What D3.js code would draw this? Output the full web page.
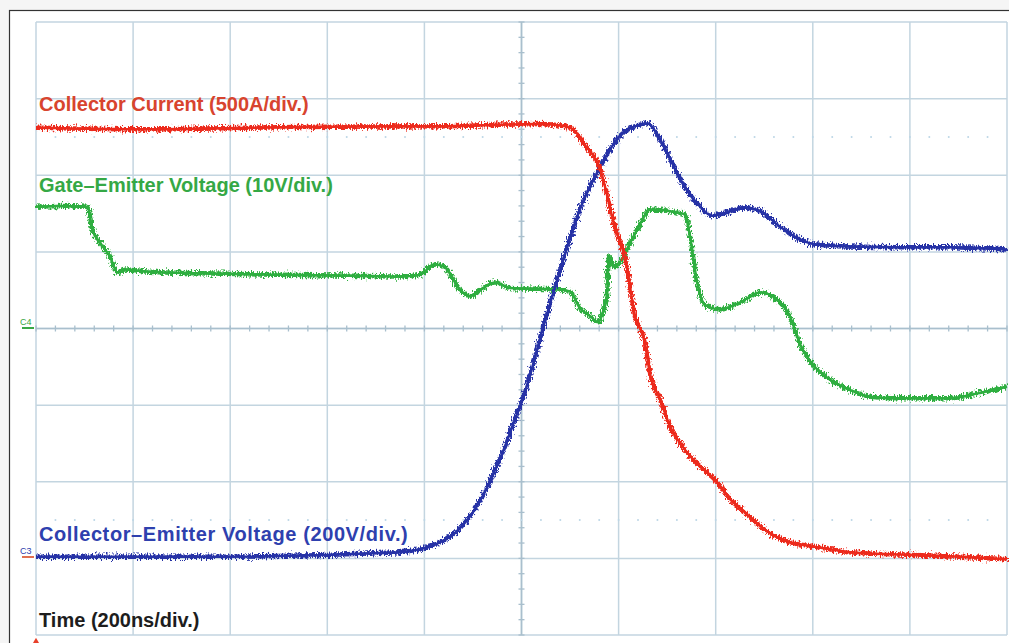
<!DOCTYPE html>
<html>
<head>
	<script src="https://d3js.org/d3.v7.min.js"></script>
	<style>
		body { margin: 0; background: #f5f5f5; }
		svg { display: block; }
		.label { font-family: "Liberation Sans", Arial, sans-serif; font-weight: bold; font-size: 20px; }
	</style>
</head>
<body>
	<div class="scope"></div>
	<script>
		// screen size, in pixels
		var w = 1009, h = 643;

		// traces: t in divisions (200ns/div), v in divisions from centre
		var currentT = [0, 1.17, 2.72, 4.26, 5.19, 5.45, 5.55, 5.63, 5.81, 5.96, 6.07, 6.17, 6.27, 6.32, 6.43, 6.53, 6.63, 6.74, 6.84, 6.99, 7.15, 7.30, 7.46, 7.61, 7.77, 7.97, 8.18, 8.38, 8.90, 9.52, 10];
		var currentV = [2.62, 2.60, 2.63, 2.64, 2.67, 2.64, 2.58, 2.43, 2.08, 1.33, 0.90, 0.16, -0.18, -0.57, -0.93, -1.28, -1.49, -1.67, -1.80, -1.97, -2.23, -2.40, -2.58, -2.71, -2.79, -2.84, -2.88, -2.92, -2.95, -2.98, -3.01];

		var vceT = [0, 1.69, 3.75, 3.95, 4.16, 4.32, 4.42, 4.52, 4.62, 4.73, 4.83, 4.93, 5.01, 5.09, 5.22, 5.40, 5.60, 5.81, 6.01, 6.22, 6.30, 6.38, 6.53, 6.68, 6.84, 6.96, 7.10, 7.30, 7.46, 7.66, 7.87, 8.02, 8.38, 8.90, 9.41, 10];
		var vceV = [-2.98, -2.98, -2.92, -2.88, -2.79, -2.66, -2.53, -2.36, -2.14, -1.84, -1.54, -1.19, -0.93, -0.60, 0, 0.77, 1.55, 2.11, 2.51, 2.66, 2.68, 2.57, 2.21, 1.85, 1.59, 1.47, 1.51, 1.58, 1.53, 1.33, 1.16, 1.10, 1.07, 1.06, 1.06, 1.03];

		var vgeT = [0, 0.25, 0.53, 0.58, 0.66, 0.76, 0.84, 0.92, 1.17, 1.69, 2.51, 3.23, 3.75, 3.95, 4.11, 4.21, 4.37, 4.47, 4.57, 4.73, 4.88, 5.40, 5.50, 5.60, 5.71, 5.79, 5.84, 5.88, 5.90, 5.96, 6.01, 6.12, 6.22, 6.32, 6.43, 6.53, 6.68, 6.74, 6.81, 6.89, 7.04, 7.25, 7.46, 7.61, 7.77, 7.87, 8.02, 8.18, 8.38, 8.59, 8.90, 9.41, 9.72, 10];
		var vgeV = [1.59, 1.60, 1.59, 1.29, 1.12, 0.94, 0.73, 0.77, 0.74, 0.72, 0.70, 0.69, 0.68, 0.70, 0.84, 0.80, 0.50, 0.42, 0.50, 0.60, 0.53, 0.51, 0.48, 0.27, 0.16, 0.08, 0.22, 0.42, 0.94, 0.80, 0.86, 1.12, 1.36, 1.55, 1.55, 1.53, 1.49, 1.17, 0.59, 0.31, 0.25, 0.34, 0.47, 0.40, 0.14, -0.21, -0.50, -0.67, -0.80, -0.89, -0.91, -0.91, -0.84, -0.76];

		var labels = ["Collector Current (500A/div.)", "Gate\u2013Emitter Voltage (10V/div.)", "Collector\u2013Emitter Voltage (200V/div.)", "Time (200ns/div.)"];

		var svg = d3.select(".scope")
			.append("svg")
			.attr("width", w)
			.attr("height", h);

		var x = d3.scaleLinear().domain([0, 10]).range([36, 1007]);
		var y = d3.scaleLinear().domain([-4, 4]).range([635, 22]);

		// noisy look of the scope traces
		var filter = svg.append("defs").append("filter")
			.attr("id", "jitter")
			.attr("filterUnits", "userSpaceOnUse")
			.attr("x", 0).attr("y", 0).attr("width", w).attr("height", h);
		filter.append("feTurbulence")
			.attr("type", "fractalNoise")
			.attr("baseFrequency", "0.8 0.35")
			.attr("numOctaves", 2)
			.attr("seed", 4)
			.attr("result", "n");
		filter.append("feDisplacementMap")
			.attr("in", "SourceGraphic")
			.attr("in2", "n")
			.attr("scale", 9)
			.attr("xChannelSelector", "R")
			.attr("yChannelSelector", "G");

		// frame
		svg.append("rect")
			.attr("x", 9.5).attr("y", 10.5)
			.attr("width", w).attr("height", h)
			.attr("fill", "#fff")
			.attr("stroke", "#333")
			.attr("stroke-width", 1.2);

		// grid
		var grid = svg.append("g");
		grid.selectAll(".vline")
			.data(d3.range(0, 11))
			.enter()
			.append("line")
			.attr("x1", function(d) { return x(d); })
			.attr("x2", function(d) { return x(d); })
			.attr("y1", y(4)).attr("y2", y(-4))
			.attr("stroke", "#c3d5e0")
			.attr("stroke-width", 1.5);
		grid.selectAll(".hline")
			.data(d3.range(-4, 5))
			.enter()
			.append("line")
			.attr("y1", function(d) { return y(d); })
			.attr("y2", function(d) { return y(d); })
			.attr("x1", x(0)).attr("x2", x(10))
			.attr("stroke", "#c3d5e0")
			.attr("stroke-width", 1.5);

		// minor ticks on the centre axes
		grid.selectAll(".htick")
			.data(d3.range(0, 10.01, 0.2))
			.enter()
			.append("line")
			.attr("x1", function(d) { return x(d); })
			.attr("x2", function(d) { return x(d); })
			.attr("y1", y(0) - 3).attr("y2", y(0) + 3)
			.attr("stroke", "#a9bfcd")
			.attr("stroke-width", 1.3);
		grid.selectAll(".vtick")
			.data(d3.range(-4, 4.01, 0.2))
			.enter()
			.append("line")
			.attr("y1", function(d) { return y(d); })
			.attr("y2", function(d) { return y(d); })
			.attr("x1", x(5) - 3).attr("x2", x(5) + 3)
			.attr("stroke", "#a9bfcd")
			.attr("stroke-width", 1.3);
		grid.append("line")
			.attr("x1", x(0)).attr("x2", x(10))
			.attr("y1", y(0)).attr("y2", y(0))
			.attr("stroke", "#a9bfcd")
			.attr("stroke-width", 1.6);
		grid.append("line")
			.attr("x1", x(5)).attr("x2", x(5))
			.attr("y1", y(4)).attr("y2", y(-4))
			.attr("stroke", "#a9bfcd")
			.attr("stroke-width", 1.6);

		// faint dotted lines at +/- 2.5 div
		[2.5, -2.5].forEach(function(v) {
			grid.selectAll(".dot" + (v > 0 ? "a" : "b"))
				.data(d3.range(0.2, 10, 0.2))
				.enter()
				.append("circle")
				.attr("cx", function(d) { return x(d); })
				.attr("cy", y(v))
				.attr("r", 1)
				.attr("fill", "#bcd6e6");
		});

		// traces
		var line = d3.line()
			.x(function(d) { return x(d[0]); })
			.y(function(d) { return y(d[1]); })
			.curve(d3.curveMonotoneX);

		var traces = [
			{t: vgeT, v: vgeV, color: "#2fae3f"},
			{t: vceT, v: vceV, color: "#2632a6"},
			{t: currentT, v: currentV, color: "#ec2a1d"}
		];
		traces.forEach(function(tr) {
			var pts = d3.zip(tr.t, tr.v);
			// solid core, then the jittered band over it
			svg.append("path")
				.datum(pts)
				.attr("d", line)
				.attr("fill", "none")
				.attr("stroke", tr.color)
				.attr("stroke-width", 2.5)
				.attr("stroke-linejoin", "round");
			svg.append("path")
				.datum(pts)
				.attr("d", line)
				.attr("fill", "none")
				.attr("stroke", tr.color)
				.attr("stroke-width", 4.5)
				.attr("stroke-linejoin", "round")
				.attr("filter", "url(#jitter)");
		});

		// channel labels
		var lab = svg.append("g").attr("class", "label");
		lab.append("text").attr("x", 39).attr("y", 111).attr("fill", "#d8442e").text(labels[0]);
		lab.append("text").attr("x", 39).attr("y", 192).attr("fill", "#35a845").text(labels[1]);
		lab.append("text").attr("x", 39).attr("y", 541).attr("fill", "#2e40ae")
			.attr("letter-spacing", 0.6).text(labels[2]);
		lab.append("text").attr("x", 39).attr("y", 627).attr("fill", "#1d1d1d").text(labels[3]);

		// channel markers on the left edge
		svg.append("text")
			.attr("x", 20).attr("y", 325)
			.attr("font-family", "Liberation Sans, Arial, sans-serif")
			.attr("font-size", 9)
			.attr("fill", "#3aa845")
			.text("C4");
		svg.append("line")
			.attr("x1", 22).attr("x2", 34).attr("y1", y(0) - 0.5).attr("y2", y(0) - 0.5)
			.attr("stroke", "#3aa845").attr("stroke-width", 2);
		svg.append("text")
			.attr("x", 20).attr("y", 554)
			.attr("font-family", "Liberation Sans, Arial, sans-serif")
			.attr("font-size", 9)
			.attr("fill", "#2e40ae")
			.text("C3");
		svg.append("line")
			.attr("x1", 22).attr("x2", 34).attr("y1", 557).attr("y2", 557)
			.attr("stroke", "#e07050").attr("stroke-width", 2);

		// trigger marker
		svg.append("path")
			.attr("d", d3.symbol().type(d3.symbolTriangle).size(50))
			.attr("transform", "translate(" + x(0) + "," + (h + 1) + ")")
			.attr("fill", "#e8402a");
	</script>
</body>
</html>
